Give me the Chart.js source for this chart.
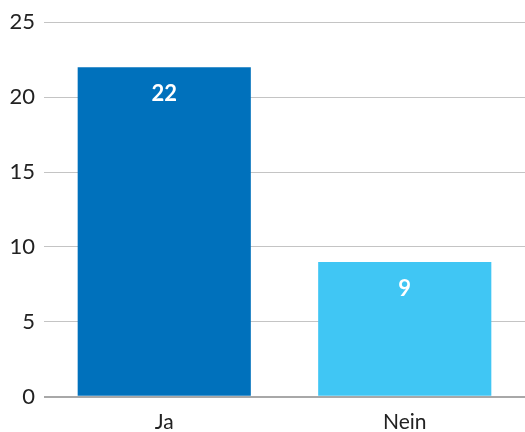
<!DOCTYPE html>
<html>
<head>
<meta charset="utf-8">
<script src="https://cdn.jsdelivr.net/npm/chart.js@4"></script>
<style>
  html, body { margin: 0; padding: 0; background: #fff; }
  #wrap { width: 525px; height: 432px; }
</style>
</head>
<body>
<div id="wrap"><canvas id="chart" width="525" height="432"></canvas></div>
<script>
const categories = ['Ja', 'Nein'];
const values = [22, 9];
const barColors = ['#0071bc', '#40c6f4'];
const yTicks = [0, 5, 10, 15, 20, 25];

// draws the value inside each bar, near its top
const valueLabels = {
  id: 'valueLabels',
  afterDatasetsDraw(chart) {
    const ctx = chart.ctx;
    const meta = chart.getDatasetMeta(0);
    ctx.save();
    ctx.fillStyle = '#fff';
    ctx.font = 'bold 22px Lato';
    ctx.textAlign = 'center';
    ctx.textBaseline = 'middle';
    meta.data.forEach((bar, i) => {
      ctx.fillText(String(values[i]), bar.x, bar.y + 27);
    });
    ctx.restore();
  }
};

new Chart(document.getElementById('chart'), {
  type: 'bar',
  data: {
    labels: categories,
    datasets: [{
      data: values,
      backgroundColor: barColors,
      categoryPercentage: 0.72,
      barPercentage: 1
    }]
  },
  options: {
    responsive: false,
    animation: false,
    layout: { padding: { top: 17, right: 0, bottom: -8, left: 0 } },
    plugins: { legend: { display: false }, tooltip: { enabled: false } },
    scales: {
      y: {
        min: 0,
        max: 25,
        afterFit(scale) { scale.width = 44; },
        afterBuildTicks(scale) { scale.ticks = yTicks.map(v => ({ value: v })); },
        ticks: { color: '#222', font: { family: 'Lato', size: 22 }, padding: 9 },
        grid: {
          drawTicks: false,
          color: ctx => ctx.tick && ctx.tick.value === 0 ? '#a8a8a8' : '#c4c4c4',
          lineWidth: ctx => ctx.tick && ctx.tick.value === 0 ? 2 : 1
        },
        border: { display: false }
      },
      x: {
        ticks: { color: '#222', font: { family: 'Lato', size: 21 }, padding: 5 },
        grid: { display: false },
        border: { display: false }
      }
    }
  },
  plugins: [valueLabels]
});
</script>
</body>
</html>
